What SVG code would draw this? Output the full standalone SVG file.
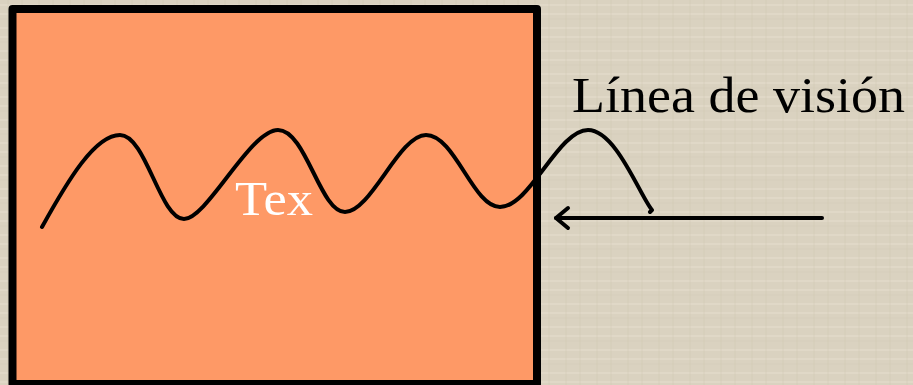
<svg xmlns="http://www.w3.org/2000/svg" width="913" height="385" viewBox="0 0 913 385">
  <style>
    .lbl { font-family: "Liberation Serif", "DejaVu Serif", serif; }
    .wave { fill: none; stroke: #000; stroke-width: 4; stroke-linecap: round; stroke-linejoin: round; }
    .conn { fill: none; stroke: #000; stroke-width: 4; stroke-linecap: round; stroke-linejoin: round; }
  </style>
  <defs>
    <pattern id="tex" width="31" height="23" patternUnits="userSpaceOnUse">
      <rect width="31" height="23" fill="#DAD2C0"/>
      <path d="M0,5 H31 M0,14 H31" stroke="#E7E0D0" stroke-width="1.5" opacity="0.6"/>
      <path d="M8,0 V23 M22,0 V23" stroke="#CCC3B0" stroke-width="1.2" opacity="0.35"/>
      <path d="M0,19 H31" stroke="#CEC5B2" stroke-width="1" opacity="0.4"/>
    </pattern>
  </defs>
  <rect id="background" x="0" y="0" width="913" height="385" fill="url(#tex)"/>
  <g id="block">
    <rect x="12.5" y="9" width="524.5" height="375" fill="#FE9966" stroke="#000" stroke-width="8" stroke-linejoin="round"/>
    <text class="lbl" x="235" y="215" font-size="48" fill="#FFFFFF" textLength="78" lengthAdjust="spacingAndGlyphs">Tex</text>
  </g>
  <g id="wave">
    <path class="wave" d="M42,227 C68,180 95,135 120,135 C146,135 160,219 184,219 C207,219 250,130 278,130 C306,130 320,212 345,212 C371,212 399,135 426,135 C455,135 473,207 500,207 C530,207 558,130 588,130 C616,130 640,196 652,210 L650,212"/>
  </g>
  <g id="label">
    <text class="lbl" x="572" y="112" font-size="50" fill="#000" textLength="333" lengthAdjust="spacingAndGlyphs">Línea de visión</text>
  </g>
  <g id="connectors">
    <path class="conn" d="M822,218 H556"/>
    <path class="conn" d="M568,208 L556,218 L568,228"/>
  </g>
</svg>
